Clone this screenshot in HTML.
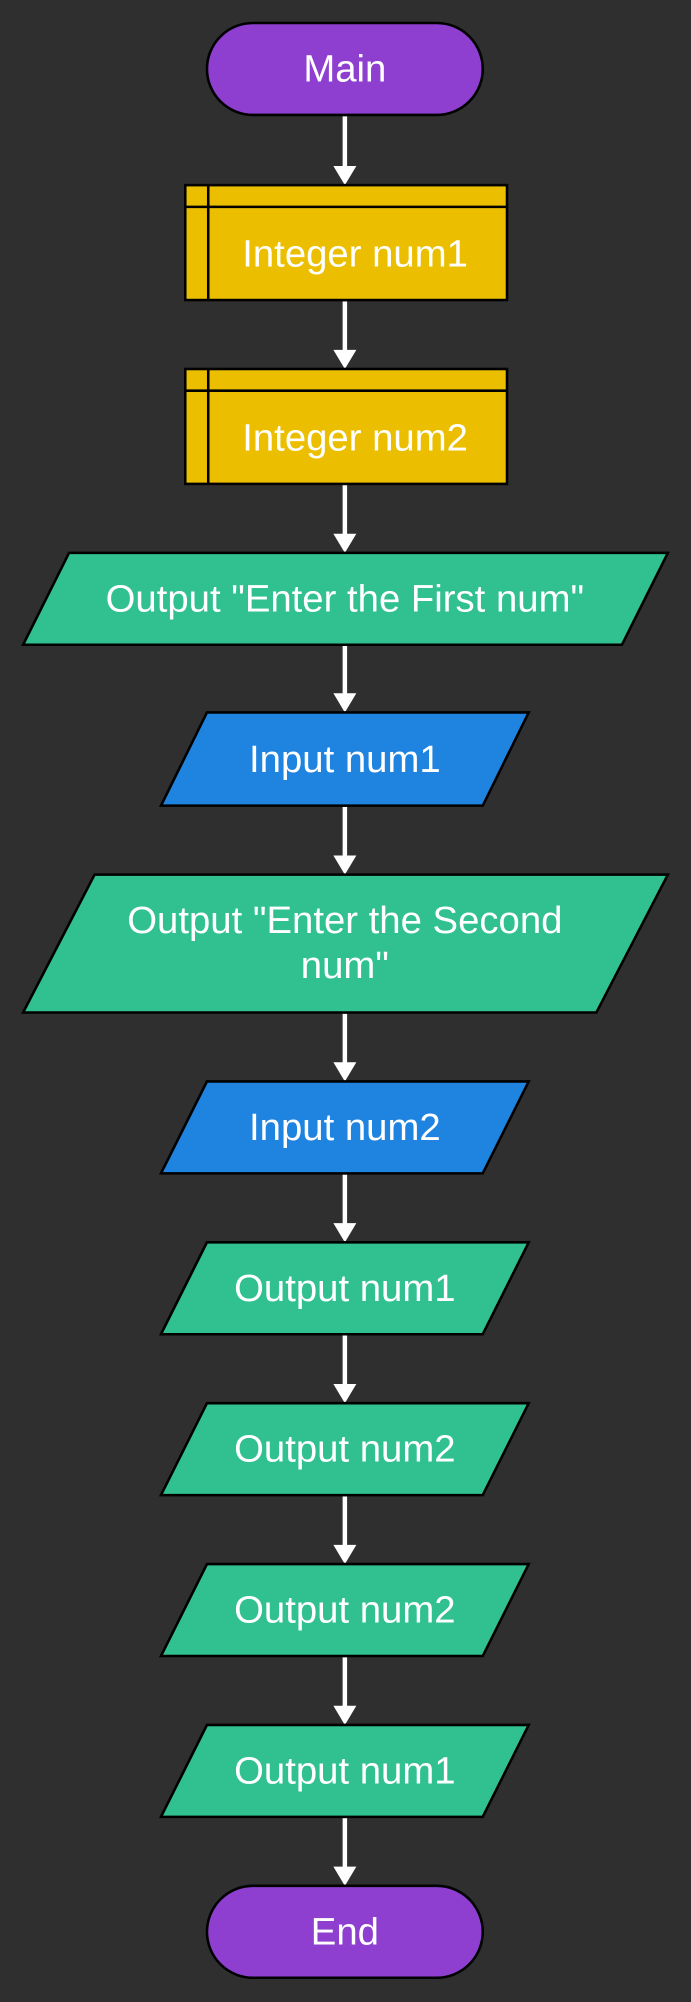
<!DOCTYPE html>
<html><head><meta charset="utf-8"><style>
html,body{margin:0;padding:0;background:#2f2f2f;}
svg{display:block;}
text{font-family:"Liberation Sans",Arial,sans-serif;font-size:30px;fill:#fff;text-anchor:middle;dominant-baseline:central;}
</style></head><body>
<svg width="691" height="2002" viewBox="0 0 541 1568" xmlns="http://www.w3.org/2000/svg">
<rect width="541" height="1568" fill="#2f2f2f"/>
<g stroke="#fff" stroke-width="3.5">
<line x1="270" y1="91" x2="270" y2="132"/>
<line x1="270" y1="236" x2="270" y2="276"/>
<line x1="270" y1="380" x2="270" y2="420"/>
<line x1="270" y1="506" x2="270" y2="545"/>
<line x1="270" y1="632" x2="270" y2="672"/>
<line x1="270" y1="794" x2="270" y2="834"/>
<line x1="270" y1="920" x2="270" y2="960"/>
<line x1="270" y1="1046" x2="270" y2="1086"/>
<line x1="270" y1="1172" x2="270" y2="1212"/>
<line x1="270" y1="1298" x2="270" y2="1338"/>
<line x1="270" y1="1424" x2="270" y2="1464"/>
</g>
<g fill="#fff">
<path d="M261,130 L279,130 L270,145z"/>
<path d="M261,274 L279,274 L270,289z"/>
<path d="M261,418 L279,418 L270,433z"/>
<path d="M261,543 L279,543 L270,558z"/>
<path d="M261,670 L279,670 L270,685z"/>
<path d="M261,832 L279,832 L270,847z"/>
<path d="M261,958 L279,958 L270,973z"/>
<path d="M261,1084 L279,1084 L270,1099z"/>
<path d="M261,1210 L279,1210 L270,1225z"/>
<path d="M261,1336 L279,1336 L270,1351z"/>
<path d="M261,1462 L279,1462 L270,1477z"/>
</g>
<g stroke="#000" stroke-width="2">
<rect x="162" y="18" width="216" height="72" rx="36" fill="#8e3fd0"/>
<rect x="145" y="145" width="252" height="90" fill="#ebbe00"/>
<line x1="145" y1="162" x2="397" y2="162"/><line x1="163" y1="145" x2="163" y2="235"/>
<rect x="145" y="289" width="252" height="90" fill="#ebbe00"/>
<line x1="145" y1="306" x2="397" y2="306"/><line x1="163" y1="289" x2="163" y2="379"/>
<path d="M54,433 L523,433 L487,505 L18,505z" fill="#31c08f"/>
<path d="M162,558 L414,558 L378,631 L126,631z" fill="#1f83e0"/>
<path d="M74,685 L523,685 L467,793 L18,793z" fill="#31c08f"/>
<path d="M162,847 L414,847 L378,919 L126,919z" fill="#1f83e0"/>
<path d="M162,973 L414,973 L378,1045 L126,1045z" fill="#31c08f"/>
<path d="M162,1099 L414,1099 L378,1171 L126,1171z" fill="#31c08f"/>
<path d="M162,1225 L414,1225 L378,1297 L126,1297z" fill="#31c08f"/>
<path d="M162,1351 L414,1351 L378,1423 L126,1423z" fill="#31c08f"/>
<rect x="162" y="1477" width="216" height="72" rx="36" fill="#8e3fd0"/>
</g>
<text x="270" y="54">Main</text>
<text x="278" y="199">Integer num1</text>
<text x="278" y="343">Integer num2</text>
<text x="270" y="469">Output "Enter the First num"</text>
<text x="270" y="595">Input num1</text>
<text x="270" y="721">Output "Enter the Second</text>
<text x="270" y="756">num"</text>
<text x="270" y="883">Input num2</text>
<text x="270" y="1009">Output num1</text>
<text x="270" y="1135">Output num2</text>
<text x="270" y="1261">Output num2</text>
<text x="270" y="1387">Output num1</text>
<text x="270" y="1513">End</text>
</svg>
</body></html>
